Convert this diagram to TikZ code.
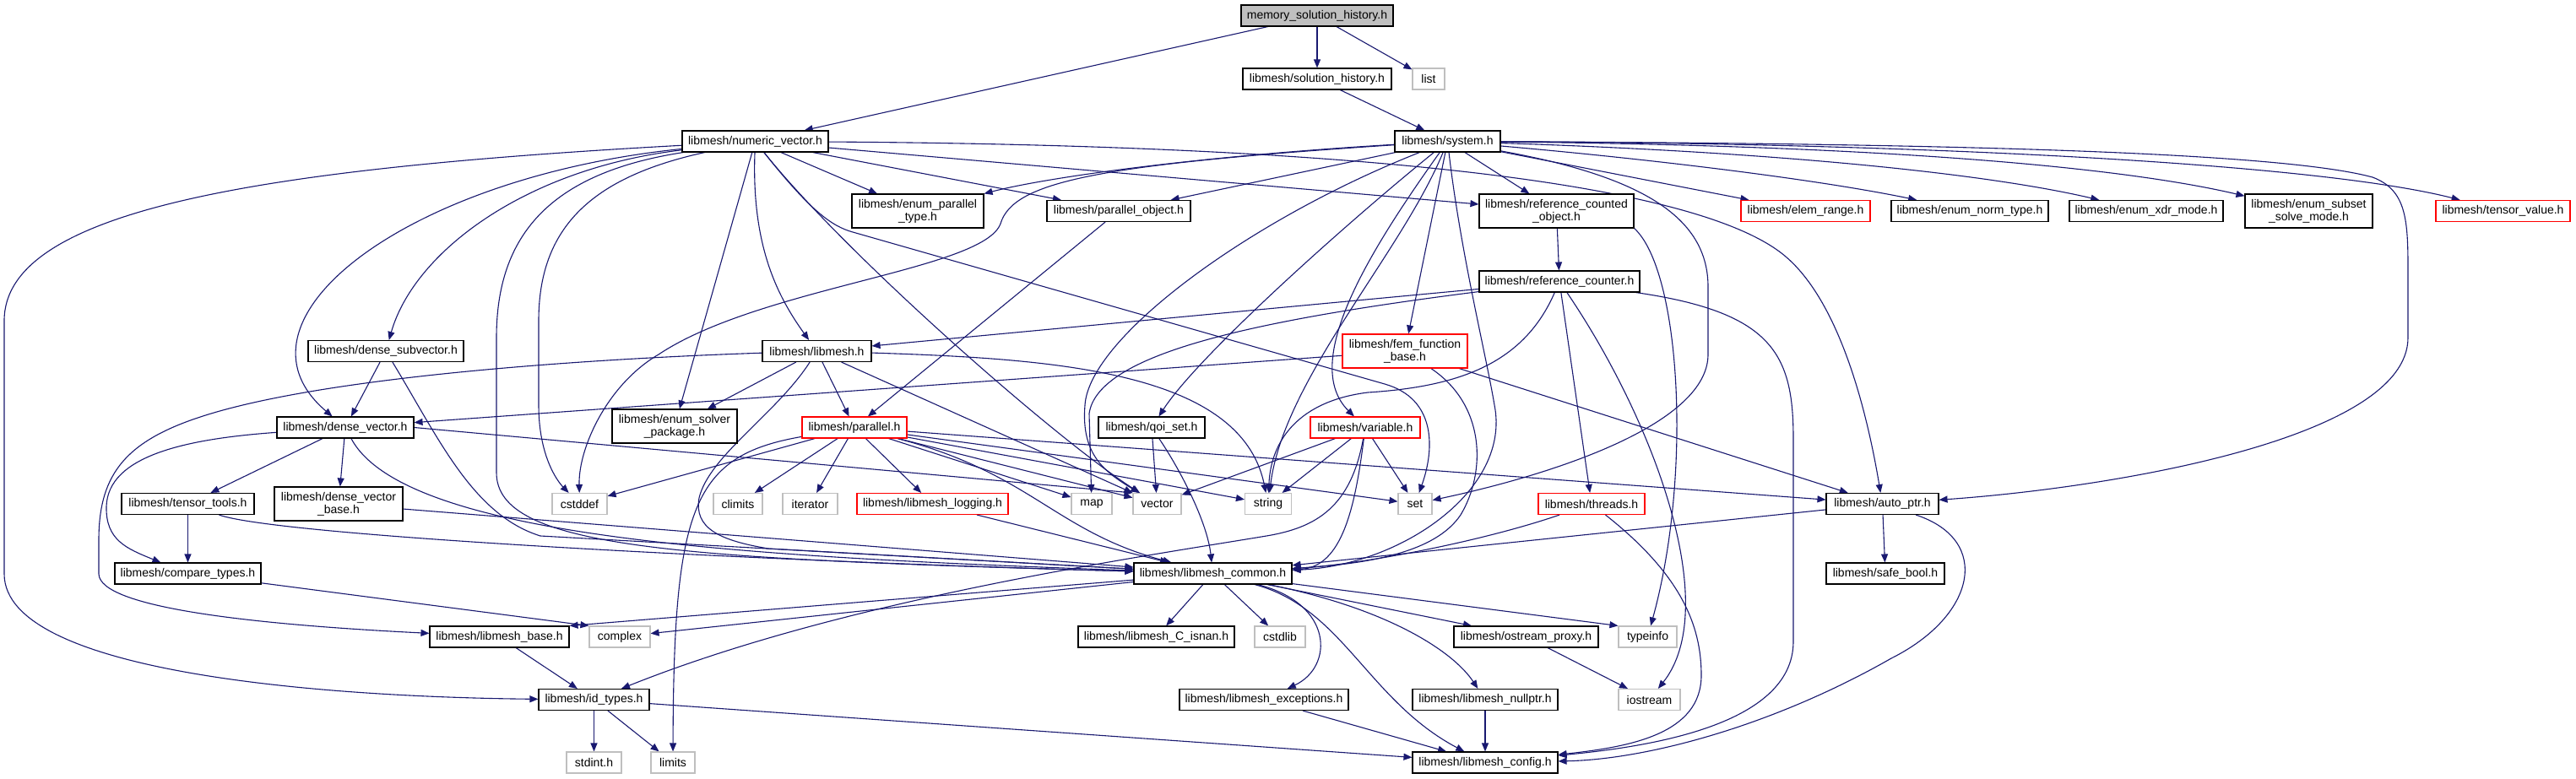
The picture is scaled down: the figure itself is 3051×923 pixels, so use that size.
\documentclass[tikz,border=0pt]{standalone}
\usepackage{fontspec}
\setmainfont{Liberation Sans}
\usetikzlibrary{arrows.meta,backgrounds}
\definecolor{incBlue}{RGB}{25,25,112}
\definecolor{sysGray}{RGB}{191,191,191}
\definecolor{cutRed}{RGB}{255,0,0}
\tikzset{
  incFile/.style={draw=black, fill=white, line width=1.1pt, inner sep=2pt, minimum height=25pt, align=center, font=\fontsize{14}{15}\selectfont},
  twoLine/.style={minimum height=40pt},
  sysFile/.style={incFile, draw=sysGray},
  cutFile/.style={incFile, draw=cutRed},
  rootFile/.style={incFile, fill=sysGray},
  incEdge/.style={draw=incBlue, line width=1.1pt, -{Triangle[length=10pt,width=8pt]}}
}

\begin{document}
\begin{tikzpicture}[x=1pt,y=-1pt]
\useasboundingbox (0,0) rectangle (3051,923);
\node[rootFile, minimum width=180pt] (mem) at (1560,18.5) {memory\_solution\_history.h};
\node[incFile, minimum width=176pt] (solhist) at (1560,93.5) {libmesh/solution\_history.h};
\node[sysFile, minimum width=38pt] (list) at (1692,93.5) {list};
\node[incFile, minimum width=173pt] (numvec) at (894.5,167.5) {libmesh/numeric\_vector.h};
\node[incFile, minimum width=125pt] (system) at (1714.5,167.5) {libmesh/system.h};
\node[incFile, twoLine, minimum width=156pt] (epar) at (1087,250) {libmesh/enum\_parallel\\\_type.h};
\node[incFile, minimum width=170pt] (pobj) at (1325,250) {libmesh/parallel\_object.h};
\node[incFile, twoLine, minimum width=183pt] (rco) at (1843.5,250) {libmesh/reference\_counted\\\_object.h};
\node[cutFile, minimum width=153pt] (erange) at (2138.5,250) {libmesh/elem\_range.h};
\node[incFile, minimum width=186pt] (enorm) at (2333,250) {libmesh/enum\_norm\_type.h};
\node[incFile, minimum width=182pt] (exdr) at (2542,250) {libmesh/enum\_xdr\_mode.h};
\node[incFile, twoLine, minimum width=151pt] (esubset) at (2734.5,250) {libmesh/enum\_subset\\\_solve\_mode.h};
\node[cutFile, minimum width=159pt] (tvalue) at (2964.5,250) {libmesh/tensor\_value.h};
\node[incFile, minimum width=190pt] (refcnt) at (1847,333.5) {libmesh/reference\_counter.h};
\node[incFile, minimum width=184pt] (dsub) at (457,416) {libmesh/dense\_subvector.h};
\node[incFile, minimum width=129pt] (libmesh) at (967.5,416) {libmesh/libmesh.h};
\node[cutFile, twoLine, minimum width=148pt] (fembase) at (1664,416) {libmesh/fem\_function\\\_base.h};
\node[incFile, minimum width=162pt] (dvec) at (409,506.5) {libmesh/dense\_vector.h};
\node[incFile, twoLine, minimum width=148pt] (esolver) at (799,505) {libmesh/enum\_solver\\\_package.h};
\node[cutFile, minimum width=124pt] (parallel) at (1012,506.5) {libmesh/parallel.h};
\node[incFile, minimum width=126pt] (qoi) at (1364,506.5) {libmesh/qoi\_set.h};
\node[cutFile, minimum width=130pt] (variable) at (1617,506.5) {libmesh/variable.h};
\node[incFile, minimum width=157pt] (ttools) at (222.5,597) {libmesh/tensor\_tools.h};
\node[incFile, twoLine, minimum width=152pt] (dvbase) at (401,597) {libmesh/dense\_vector\\\_base.h};
\node[sysFile, minimum width=65pt] (cstddef) at (686.5,597) {cstddef};
\node[sysFile, minimum width=58pt] (climits) at (874,597) {climits};
\node[sysFile, minimum width=65pt] (iterator) at (959.5,597) {iterator};
\node[cutFile, minimum width=179pt] (logging) at (1104.5,597) {libmesh/libmesh\_logging.h};
\node[sysFile, minimum width=48pt] (map) at (1293,597) {map};
\node[sysFile, minimum width=57pt] (vector) at (1370.5,597) {vector};
\node[sysFile, minimum width=55pt] (string) at (1502,597) {string};
\node[sysFile, minimum width=40pt] (set) at (1676,597) {set};
\node[cutFile, minimum width=126pt] (threads) at (1885,597) {libmesh/threads.h};
\node[incFile, minimum width=133pt] (autoptr) at (2229.5,597) {libmesh/auto\_ptr.h};
\node[incFile, minimum width=173pt] (ctypes) at (222.5,679.5) {libmesh/compare\_types.h};
\node[incFile, minimum width=187pt] (common) at (1436.5,679.5) {libmesh/libmesh\_common.h};
\node[incFile, minimum width=140pt] (safebool) at (2233,679.5) {libmesh/safe\_bool.h};
\node[incFile, minimum width=165pt] (lbase) at (591.5,754.5) {libmesh/libmesh\_base.h};
\node[sysFile, minimum width=72pt] (complex) at (734,754.5) {complex};
\node[incFile, minimum width=185pt] (isnan) at (1369.5,754.5) {libmesh/libmesh\_C\_isnan.h};
\node[sysFile, minimum width=60pt] (cstdlib) at (1516,754.5) {cstdlib};
\node[incFile, minimum width=171pt] (ostream) at (1807.5,754.5) {libmesh/ostream\_proxy.h};
\node[sysFile, minimum width=69pt] (typeinfo) at (1951.5,754.5) {typeinfo};
\node[incFile, minimum width=131pt] (idtypes) at (703.5,829) {libmesh/id\_types.h};
\node[incFile, minimum width=200pt] (except) at (1497,829) {libmesh/libmesh\_exceptions.h};
\node[incFile, minimum width=172pt] (nullptr) at (1759,829) {libmesh/libmesh\_nullptr.h};
\node[sysFile, minimum width=73pt] (iostream) at (1953.5,829) {iostream};
\node[sysFile, minimum width=65pt] (stdint) at (703.5,903.5) {stdint.h};
\node[sysFile, minimum width=52pt] (limits) at (797,903.5) {limits};
\node[incFile, minimum width=172pt] (config) at (1759,903.5) {libmesh/libmesh\_config.h};
\begin{scope}[on background layer]
\fill[white] (0,0) rectangle (3051,923);
\draw[incEdge] (mem) -- (numvec);
\draw[incEdge] (mem) -- (solhist);
\draw[incEdge] (mem) -- (list);
\draw[incEdge] (solhist) -- (system);
\draw[incEdge] (numvec) -- (epar);
\draw[incEdge] (numvec) -- (pobj);
\draw[incEdge] (numvec) -- (rco);
\draw[incEdge] (numvec) .. controls (1600,172) and (2000,215) .. (2110,300) .. controls (2176,351) and (2210,480) .. (autoptr);
\draw[incEdge] (numvec) .. controls (650,205) and (588,280) .. (588,400) -- (588,560) .. controls (588,650) and (800,662) .. (common);
\draw[incEdge] (numvec) .. controls (890,290) and (920,350) .. (libmesh);
\draw[incEdge] (numvec) .. controls (620,200) and (490,300) .. (dsub);
\draw[incEdge] (numvec) .. controls (480,210) and (260,380) .. (dvec);
\draw[incEdge] (numvec) -- (esolver);
\draw[incEdge] (numvec) .. controls (300,200) and (5,250) .. (5,380) -- (5,680) .. controls (5,800) and (400,826) .. (idtypes);
\draw[incEdge] (numvec) .. controls (700,210) and (638,270) .. (638,380) -- (638,480) .. controls (638,540) and (660,570) .. (cstddef);
\draw[incEdge] (numvec) .. controls (1000,300) and (1250,520) .. (vector);
\draw[incEdge] (numvec) .. controls (960,250) and (985,268) .. (1010,275) -- (1640,455) .. controls (1700,472) and (1700,530) .. (set);
\draw[incEdge] (system) .. controls (1420,185) and (1240,210) .. (epar.north east);
\draw[incEdge] (system) -- (pobj);
\draw[incEdge] (system) -- (rco);
\draw[incEdge] (system) -- (erange);
\draw[incEdge] (system) .. controls (1950,188) and (2150,212) .. (enorm);
\draw[incEdge] (system) .. controls (2100,180) and (2350,205) .. (exdr);
\draw[incEdge] (system) .. controls (2200,172) and (2500,195) .. (esubset);
\draw[incEdge] (system) .. controls (2300,170) and (2750,195) .. (tvalue);
\draw[incEdge] (system) .. controls (2300,170) and (2700,180) .. (2810,210) .. controls (2850,225) and (2852,260) .. (2852,320) -- (2852,400) .. controls (2852,520) and (2500,578) .. (autoptr);
\draw[incEdge] (system) -- (fembase);
\draw[incEdge] (system) .. controls (1600,260) and (1420,420) .. (qoi);
\draw[incEdge] (system) .. controls (1620,300) and (1540,430) .. (variable);
\draw[incEdge] (system) .. controls (1730,300) and (1760,420) .. (1770,480) .. controls (1790,580) and (1660,670) .. (common);
\draw[incEdge] (system) .. controls (1300,195) and (1200,215) .. (1185,265) .. controls (1165,320) and (900,340) .. (780,420) .. controls (720,455) and (685,530) .. (cstddef);
\draw[incEdge] (system) .. controls (1950,210) and (2023,260) .. (2023,340) -- (2023,420) .. controls (2023,500) and (1850,560) .. (set);
\draw[incEdge] (system) .. controls (1660,300) and (1520,450) .. (string);
\draw[incEdge] (system) .. controls (1480,260) and (1290,400) .. (1285,480) .. controls (1280,540) and (1310,560) .. (vector);
\draw[incEdge] (rco) -- (refcnt);
\draw[incEdge] (rco.south east) .. controls (1990,320) and (2005,560) .. (typeinfo);
\draw[incEdge] (refcnt) -- (libmesh);
\draw[incEdge] (refcnt) .. controls (1480,380) and (1300,420) .. (1290,490) -- (map);
\draw[incEdge] (refcnt) .. controls (1805,430) and (1730,458) .. (1620,465) .. controls (1540,475) and (1505,520) .. (string);
\draw[incEdge] (refcnt) -- (threads);
\draw[incEdge] (refcnt) .. controls (1960,500) and (2040,720) .. (iostream);
\draw[incEdge] (refcnt) .. controls (2100,370) and (2124,420) .. (2124,520) -- (2124,760) .. controls (2124,860) and (1950,885) .. (config);
\draw[incEdge] (pobj) -- (parallel);
\draw[incEdge] (libmesh) .. controls (700,425) and (400,445) .. (250,490) .. controls (150,520) and (117,560) .. (117,640) -- (117,680) .. controls (118,720) and (300,740) .. (lbase);
\draw[incEdge] (libmesh) -- (esolver);
\draw[incEdge] (libmesh) -- (parallel);
\draw[incEdge] (libmesh) -- (vector);
\draw[incEdge] (libmesh) .. controls (1250,425) and (1470,440) .. (string);
\draw[incEdge] (libmesh) .. controls (920,490) and (840,540) .. (828,590) .. controls (822,625) and (850,640) .. (910,650) -- (common);
\draw[incEdge] (fembase) -- (dvec);
\draw[incEdge] (fembase) .. controls (1760,480) and (1760,560) .. (1730,610) .. controls (1700,655) and (1620,668) .. (common);
\draw[incEdge] (fembase) -- (autoptr);
\draw[incEdge] (dsub) -- (dvec);
\draw[incEdge] (dsub) .. controls (520,520) and (560,610) .. (640,635) -- (common);
\draw[incEdge] (dvec) -- (ttools);
\draw[incEdge] (dvec) -- (dvbase);
\draw[incEdge] (dvec) .. controls (220,520) and (128,540) .. (126,600) .. controls (125,640) and (150,650) .. (ctypes);
\draw[incEdge] (dvec) .. controls (480,640) and (900,660) .. (common);
\draw[incEdge] (dvec.east) -- (vector.north west);
\draw[incEdge] (parallel) .. controls (820,540) and (798,600) .. (limits);
\draw[incEdge] (parallel) -- (cstddef);
\draw[incEdge] (parallel) -- (climits);
\draw[incEdge] (parallel) -- (iterator);
\draw[incEdge] (parallel) -- (logging);
\draw[incEdge] (parallel) -- (map);
\draw[incEdge] (parallel) -- (vector);
\draw[incEdge] (parallel) -- (string);
\draw[incEdge] (parallel) -- (set);
\draw[incEdge] (parallel) -- (autoptr);
\draw[incEdge] (parallel) .. controls (1220,560) and (1250,630) .. (common);
\draw[incEdge] (qoi) -- (vector);
\draw[incEdge] (qoi) .. controls (1400,560) and (1430,620) .. (common);
\draw[incEdge] (variable) -- (vector);
\draw[incEdge] (variable) -- (string);
\draw[incEdge] (variable) -- (set);
\draw[incEdge] (variable) .. controls (1605,600) and (1590,672) .. (common);
\draw[incEdge] (variable) .. controls (1600,600) and (1560,625) .. (1500,635) .. controls (1350,660) and (1000,710) .. (idtypes);
\draw[incEdge] (ttools) -- (ctypes);
\draw[incEdge] (ttools) .. controls (330,635) and (900,665) .. (common);
\draw[incEdge] (dvbase) -- (common);
\draw[incEdge] (logging) -- (common);
\draw[incEdge] (threads) .. controls (1760,640) and (1620,668) .. (common);
\draw[incEdge] (threads) .. controls (1990,680) and (2015,740) .. (2015,800) .. controls (2015,870) and (1930,885) .. (config);
\draw[incEdge] (autoptr) -- (common);
\draw[incEdge] (autoptr) -- (safebool);
\draw[incEdge] (autoptr) .. controls (2360,640) and (2340,730) .. (2240,780) .. controls (2100,860) and (1950,900) .. (config);
\draw[incEdge] (ctypes) -- (complex.north west);
\draw[incEdge] (common) -- (lbase.north east);
\draw[incEdge] (common) -- (complex);
\draw[incEdge] (common) -- (isnan);
\draw[incEdge] (common) -- (cstdlib);
\draw[incEdge] (common) .. controls (1580,715) and (1580,790) .. (except);
\draw[incEdge] (common) .. controls (1590,720) and (1620,830) .. (config);
\draw[incEdge] (common) .. controls (1640,720) and (1720,770) .. (nullptr);
\draw[incEdge] (common) -- (ostream);
\draw[incEdge] (common) -- (typeinfo.north west);
\draw[incEdge] (lbase) -- (idtypes);
\draw[incEdge] (idtypes) -- (stdint);
\draw[incEdge] (idtypes) -- (limits);
\draw[incEdge] (idtypes) -- (config);
\draw[incEdge] (except) -- (config);
\draw[incEdge] (nullptr) -- (config);
\draw[incEdge] (ostream) -- (iostream);
\end{scope}
\end{tikzpicture}
\end{document}
